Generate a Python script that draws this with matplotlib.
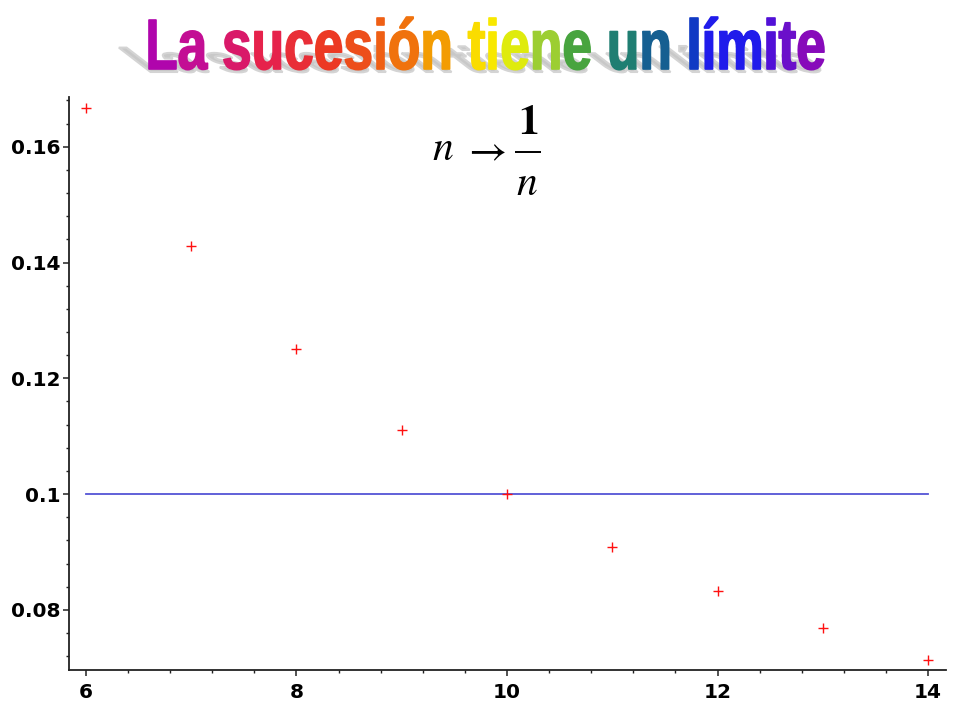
import numpy as np
import matplotlib
matplotlib.use("Agg")
import matplotlib.pyplot as plt
from matplotlib.textpath import TextPath
from matplotlib.font_manager import FontProperties
from matplotlib.patches import PathPatch
from matplotlib.path import Path
from matplotlib.transforms import Affine2D
from matplotlib.colors import LinearSegmentedColormap
from matplotlib.ticker import MultipleLocator, FixedLocator, FixedFormatter

# ---- data ----
n_values = [6, 7, 8, 9, 10, 11, 12, 13, 14]
seq_values = [0.1667, 0.1429, 0.125, 0.1111, 0.1, 0.0909, 0.0833, 0.0769, 0.0714]
limit_value = 0.1
x_ticks = [6, 8, 10, 12, 14]
x_tick_labels = ["6", "8", "10", "12", "14"]
y_ticks = [0.08, 0.10, 0.12, 0.14, 0.16]
y_tick_labels = ["0.08", "0.1", "0.12", "0.14", "0.16"]
title_text = "La sucesión tiene un límite"

W, H = 960, 720
fig = plt.figure(figsize=(W / 100, H / 100), dpi=100)
fig.patch.set_facecolor("white")
plt.rcParams["mathtext.fontset"] = "stix"

ax = fig.add_axes([69 / W, 50 / H, (946 - 69) / W, (670 - 97) / H])
ax.plot(n_values, seq_values, linestyle="none", marker="+", color="#ff1010",
        markersize=7, markeredgewidth=1.0, zorder=3)
ax.plot([n_values[0], n_values[-1]], [limit_value, limit_value],
        color="#5454d6", linewidth=1.3, zorder=2)
ax.set_xlim(5.84, 14.17)
ax.set_ylim(0.0696, 0.1686)
for s in ["top", "right"]:
    ax.spines[s].set_visible(False)
for s in ["left", "bottom"]:
    ax.spines[s].set_linewidth(1.3)
    ax.spines[s].set_color("#222222")
ax.xaxis.set_major_locator(FixedLocator(x_ticks))
ax.xaxis.set_major_formatter(FixedFormatter(x_tick_labels))
ax.yaxis.set_major_locator(FixedLocator(y_ticks))
ax.yaxis.set_major_formatter(FixedFormatter(y_tick_labels))
ax.xaxis.set_minor_locator(MultipleLocator(0.4))
ax.yaxis.set_minor_locator(MultipleLocator(0.004))
ax.tick_params(which="major", length=4.5, width=1.1, color="#222222")
ax.tick_params(which="minor", length=2.2, width=1.0, color="#222222")
ax.tick_params(axis="y", which="major", pad=1.5)
ax.tick_params(axis="x", which="major", pad=5)
for lab in ax.get_xticklabels() + ax.get_yticklabels():
    lab.set_fontfamily("DejaVu Sans")
    lab.set_fontweight("bold")
    lab.set_fontsize(14.5)
    lab.set_color("black")

# ---- overlay in pixel coordinates ----
ov = fig.add_axes([0, 0, 1, 1])
ov.set_xlim(0, W)
ov.set_ylim(0, H)
ov.axis("off")
ov.patch.set_alpha(0)

# formula n -> 1/n
fs = 30
ov.text(443, H - 160, r"$n$", ha="center", va="baseline", fontsize=fs)
ov.text(484, H - 161, r"$\rightarrow$", ha="center", va="baseline", fontsize=fs)
ov.text(528, H - 134, r"$\mathbf{1}$", ha="center", va="baseline", fontsize=fs)
ov.plot([515, 541], [H - 152, H - 152], color="black", linewidth=1.4,
        solid_capstyle="butt")
ov.text(527, H - 195, r"$n$", ha="center", va="baseline", fontsize=fs)

# rainbow title with shadow
fp = FontProperties(family="Liberation Sans", weight="bold")
tp = TextPath((0, 0), title_text, size=1, prop=fp)
v = tp.vertices
x0, x1 = v[:, 0].min(), v[:, 0].max()
y1 = v[:, 1].max()
left, right, top_px, base_px = 145, 824, 17, 69
base_y = H - base_px
sx = (right - left) / (x1 - x0)
sy = (base_px - top_px) / y1
tr = Affine2D().translate(-x0, 0).scale(sx, sy).translate(left, base_y)
main_path = tr.transform_path(tp)

# shadow: flattened and sheared to the left
sh = Affine2D().translate(0, -base_y).scale(1, 0.5)
sh = sh + Affine2D(np.array([[1, -1.3, 0], [0, 1, 0], [0, 0, 1]])) + Affine2D().translate(2, base_y - 3)
shadow_path = sh.transform_path(main_path)
ov.add_patch(PathPatch(shadow_path, facecolor="#c8c8c8", edgecolor="#d4d4d4",
                       linewidth=1.5, zorder=1))

stops_px = [143, 200, 260, 330, 400, 440, 480, 505, 540, 580, 620, 670, 720, 760, 800, 830]
stops_col = ["#a600b8", "#c8108e", "#e6204e", "#ec3a22", "#f0700e", "#f4a400",
             "#fbe000", "#f4f400", "#a8d430", "#40a040", "#208070", "#1050a0",
             "#1020f0", "#4010e0", "#8010c0", "#9400b0"]
pos = [(p - 143) / (830 - 143) for p in stops_px]
cmap = LinearSegmentedColormap.from_list("rb", list(zip(pos, stops_col)))

# split the title path into contours, group overlapping contours into letters
contours = []
verts, codes = [], []
for vv, cc in main_path.iter_segments(simplify=False, curves=True):
    if cc == Path.MOVETO and verts:
        contours.append((verts, codes))
        verts, codes = [], []
    pts = np.asarray(vv).reshape(-1, 2)
    verts.extend(pts.tolist())
    codes.extend([cc] * len(pts))
if verts:
    contours.append((verts, codes))
contours.sort(key=lambda c: min(p[0] for p in c[0]))
groups = []
for vs, cs in contours:
    xmin = min(p[0] for p in vs)
    xmax = max(p[0] for p in vs)
    if groups and xmin < groups[-1]["xmax"] - 1.0:
        g = groups[-1]
        g["v"].extend(vs); g["c"].extend(cs)
        g["xmax"] = max(g["xmax"], xmax)
    else:
        groups.append({"v": list(vs), "c": list(cs), "xmin": xmin, "xmax": xmax})
for g in groups:
    xc = 0.5 * (g["xmin"] + g["xmax"])
    col = cmap(np.clip((xc - 143) / (830 - 143), 0, 1))
    p = Path(np.array(g["v"]), np.array(g["c"], dtype=np.uint8))
    ov.add_patch(PathPatch(p, facecolor=col, edgecolor=col, linewidth=1.2,
                           joinstyle="round", zorder=2))

fig.savefig("out.png", dpi=100)
